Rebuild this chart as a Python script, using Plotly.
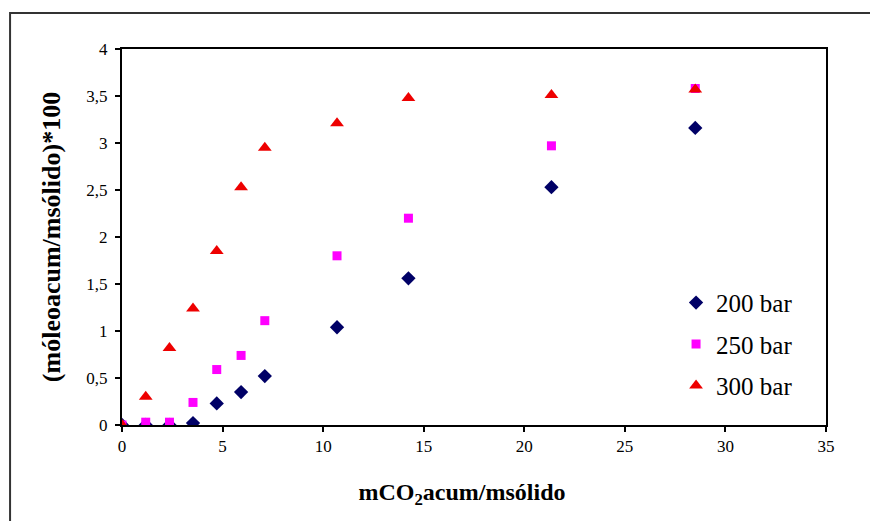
import plotly.graph_objects as go

# Data
x_vals = [0, 1.18, 2.36, 3.53, 4.71, 5.92, 7.1, 10.69, 14.24, 21.35, 28.5]
y_200 = [0, 0, 0, 0.02, 0.23, 0.35, 0.52, 1.04, 1.56, 2.53, 3.16]
y_250 = [0, 0.03, 0.03, 0.24, 0.59, 0.74, 1.11, 1.80, 2.20, 2.97, 3.58]
y_300 = [0, 0.30, 0.82, 1.24, 1.85, 2.53, 2.95, 3.21, 3.48, 3.51, 3.57]
series_names = ["200 bar", "250 bar", "300 bar"]

FONT = "Liberation Serif"

fig = go.Figure()
fig.add_trace(go.Scatter(x=x_vals, y=y_200, mode="markers", name=series_names[0],
                         legendgroup="a",
                         marker=dict(symbol="diamond", size=11, color="#000066")))
fig.add_trace(go.Scatter(x=x_vals, y=y_250, mode="markers", name=series_names[1],
                         legendgroup="b",
                         marker=dict(symbol="square", size=9, color="#FF00FF")))
fig.add_trace(go.Scatter(x=x_vals, y=y_300, mode="markers", name=series_names[2],
                         legendgroup="c",
                         marker=dict(symbol="triangle-up", size=12, color="#EE0000")))

fig.update_layout(
    width=878, height=521,
    margin=dict(l=114, r=60, t=41, b=104),
    paper_bgcolor="white", plot_bgcolor="white",
    separators=",.",
    font=dict(family=FONT, size=17, color="black"),
    showlegend=True,
    legend=dict(x=0.787, y=0.386, xanchor="left", yanchor="top",
                font=dict(family=FONT, size=25, color="black"),
                tracegroupgap=6, bgcolor="rgba(0,0,0,0)",
                itemwidth=30),
    xaxis=dict(range=[0, 35], dtick=5, tick0=0, ticks="outside", ticklen=5,
               tickwidth=1.5, tickcolor="black",
               showline=True, linecolor="black", linewidth=2, mirror=True,
               showgrid=False, zeroline=False,
               tickfont=dict(family=FONT, size=17),
               title=dict(text="<b>mCO<sub>2</sub>acum/msólido</b>&nbsp;&nbsp;&nbsp;&nbsp;",
                          font=dict(family=FONT, size=24), standoff=28)),
    yaxis=dict(range=[0, 4], dtick=0.5, tick0=0, ticks="outside", ticklen=5,
               tickwidth=1.5, tickcolor="black",
               showline=True, linecolor="black", linewidth=2, mirror=True,
               showgrid=False, zeroline=False,
               tickfont=dict(family=FONT, size=17),
               ticklabelstandoff=4,
               title=dict(text="<b>(móleoacum/msólido)*100</b>",
                          font=dict(family=FONT, size=26), standoff=18)),
    shapes=[dict(type="rect", xref="paper", yref="paper",
                 x0=-0.159, x1=1.09, y0=-0.3, y1=1.096,
                 line=dict(color="#333333", width=2), fillcolor="rgba(0,0,0,0)",
                 layer="below")],
)

fig.write_html("out.html")
